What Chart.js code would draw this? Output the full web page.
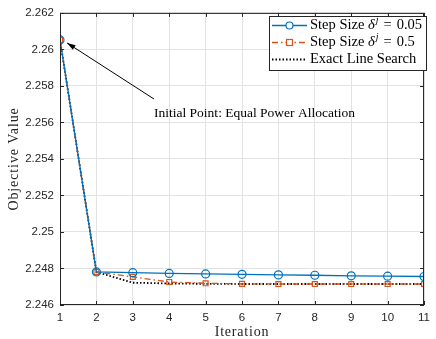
<!DOCTYPE html>
<html>
<head>
<meta charset="utf-8">
<script src="https://cdn.jsdelivr.net/npm/chart.js@4/dist/chart.umd.min.js"></script>
<style>
  html, body { margin: 0; padding: 0; background: #fff; }
  #wrap { width: 436px; height: 339px; }
</style>
</head>
<body>
<div id="wrap"><canvas id="chart" width="436" height="339"></canvas></div>
<script>
const iterations = [1, 2, 3, 4, 5, 6, 7, 8, 9, 10, 11];
const stepSmall = [2.26052, 2.24781, 2.24777, 2.24773, 2.24770, 2.24768, 2.24765, 2.24763, 2.24760, 2.24758, 2.24756];
const stepLarge = [2.26052, 2.24781, 2.24754, 2.24726, 2.24719, 2.24716, 2.24715, 2.24715, 2.24715, 2.24715, 2.24715];
const exactSearch = [2.26052, 2.24781, 2.24722, 2.24718, 2.24716, 2.24715, 2.24715, 2.24715, 2.24715, 2.24715, 2.24715];
const yTicks = [2.246, 2.248, 2.25, 2.252, 2.254, 2.256, 2.258, 2.26, 2.262];

const BLUE = '#0072BD';
const ORANGE = '#D95319';
const AXIS = '#262626';
const SERIF = '"Liberation Serif", "DejaVu Serif", serif';
const SANS = '"Liberation Sans", Arial, sans-serif';

function toPoints(arr) {
    return arr.map((v, i) => ({ x: iterations[i], y: v }));
}

// box, inward ticks, axis titles, annotation and legend like the MATLAB figure
const extras = {
    id: 'extras',
    afterDatasetsDraw(chart) {
        const ctx = chart.ctx;
        const a = chart.chartArea;
        const xs = chart.scales.x, ys = chart.scales.y;
        ctx.save();
        ctx.strokeStyle = AXIS;
        ctx.lineWidth = 1;
        ctx.strokeRect(a.left + 0.5, a.top + 0.5, a.right - a.left - 1, a.bottom - a.top - 1);
        ctx.beginPath();
        iterations.forEach(v => {
            const px = Math.round(xs.getPixelForValue(v)) + 0.5;
            ctx.moveTo(px, a.bottom); ctx.lineTo(px, a.bottom - 4);
            ctx.moveTo(px, a.top); ctx.lineTo(px, a.top + 4);
        });
        yTicks.forEach(v => {
            const py = Math.round(ys.getPixelForValue(v)) + 0.5;
            ctx.moveTo(a.left, py); ctx.lineTo(a.left + 4, py);
            ctx.moveTo(a.right, py); ctx.lineTo(a.right - 4, py);
        });
        ctx.stroke();

        // axis titles
        ctx.fillStyle = '#222';
        ctx.textAlign = 'center';
        ctx.textBaseline = 'middle';
        ctx.font = '14px ' + SERIF;
        ctx.letterSpacing = '0.8px';
        ctx.fillText('Iteration', (a.left + a.right) / 2, 332);
        ctx.save();
        ctx.translate(14, (a.top + a.bottom) / 2);
        ctx.rotate(-Math.PI / 2);
        ctx.letterSpacing = '0.9px';
        ctx.fillText('Objective Value', 0, 0);
        ctx.restore();
        ctx.letterSpacing = '0px';

        // annotation arrow
        const hx = xs.getPixelForValue(iterations[0]) + 7;
        const hy = ys.getPixelForValue(stepSmall[0]) + 3;
        const tx = 154, ty = 99;
        ctx.strokeStyle = '#000';
        ctx.fillStyle = '#000';
        ctx.beginPath();
        ctx.moveTo(tx, ty); ctx.lineTo(hx, hy);
        ctx.stroke();
        const ang = Math.atan2(ty - hy, tx - hx);
        ctx.beginPath();
        ctx.moveTo(hx, hy);
        ctx.lineTo(hx + 9 * Math.cos(ang - 0.3), hy + 9 * Math.sin(ang - 0.3));
        ctx.lineTo(hx + 9 * Math.cos(ang + 0.3), hy + 9 * Math.sin(ang + 0.3));
        ctx.closePath();
        ctx.fill();
        ctx.font = '13.5px ' + SERIF;
        ctx.textAlign = 'left';
        ctx.textBaseline = 'middle';
        ctx.fillText('Initial Point: Equal Power Allocation', 154, 113);

        // legend
        const lx = 269, ly = 16, lw = 157, lh = 54;
        ctx.fillStyle = '#fff';
        ctx.fillRect(lx, ly, lw, lh);
        ctx.strokeStyle = AXIS;
        ctx.strokeRect(lx + 0.5, ly + 0.5, lw, lh);
        const rows = [
            { ds: chart.data.datasets[0], v: '0.05' },
            { ds: chart.data.datasets[1], v: '0.5' },
            { ds: chart.data.datasets[2], v: null }
        ];
        rows.forEach((r, i) => {
            const y = ly + 9.5 + i * 17;
            ctx.strokeStyle = r.ds.borderColor;
            ctx.lineWidth = r.ds.borderWidth;
            ctx.setLineDash(r.ds.borderDash || []);
            ctx.beginPath();
            ctx.moveTo(lx + 3, y); ctx.lineTo(lx + 38, y);
            ctx.stroke();
            ctx.setLineDash([]);
            ctx.lineWidth = 1.2;
            if (r.ds.pointStyle === 'circle') {
                ctx.beginPath(); ctx.arc(lx + 20.5, y, 3.5, 0, Math.PI * 2); ctx.fillStyle = '#fff'; ctx.fill(); ctx.stroke();
            } else if (r.ds.pointStyle === 'rect') {
                ctx.fillStyle = '#fff';
                ctx.fillRect(lx + 17.5, y - 3, 6, 6);
                ctx.strokeRect(lx + 17.5, y - 3, 6, 6);
            }
            ctx.fillStyle = '#000';
            ctx.textBaseline = 'middle';
            let x = lx + 41;
            ctx.font = '14.5px ' + SERIF;
            if (r.v) {
                ctx.fillText('Step Size ', x, y);
                x += ctx.measureText('Step Size ').width;
                ctx.font = 'italic 14.5px ' + SERIF;
                ctx.fillText('\u03b4', x, y);
                x += ctx.measureText('\u03b4').width + 1;
                ctx.font = 'italic 10px ' + SERIF;
                ctx.fillText('j', x, y - 5);
                x += ctx.measureText('j').width + 5;
                ctx.font = '14.5px ' + SERIF;
                ctx.fillText('=', x, y);
                x += ctx.measureText('=').width + 5;
                ctx.fillText(r.v, x, y);
            } else {
                ctx.fillText('Exact Line Search', x, y);
            }
        });
        ctx.restore();
    }
};

new Chart(document.getElementById('chart'), {
    type: 'line',
    data: {
        datasets: [
            {
                label: 'Step Size 0.05', data: toPoints(stepSmall),
                borderColor: BLUE, backgroundColor: '#fff', borderWidth: 1.3,
                pointStyle: 'circle', pointRadius: 4, pointBorderWidth: 1.2, pointBorderColor: BLUE, pointBackgroundColor: 'rgba(0,0,0,0)'
            },
            {
                label: 'Step Size 0.5', data: toPoints(stepLarge),
                borderColor: ORANGE, backgroundColor: '#fff', borderWidth: 1.3, borderDash: [6, 3, 1.5, 3],
                pointStyle: 'rect', pointRadius: 3.5, pointBorderWidth: 1.2, pointBorderColor: ORANGE, pointBackgroundColor: 'rgba(0,0,0,0)'
            },
            {
                label: 'Exact Line Search', data: toPoints(exactSearch),
                borderColor: '#000', borderWidth: 1.8, borderDash: [1.5, 2],
                pointRadius: 0, pointStyle: false
            }
        ]
    },
    options: {
        responsive: false,
        animation: false,
        layout: { padding: { top: 12, right: 5, left: 0, bottom: 0 } },
        plugins: { legend: { display: false }, tooltip: { enabled: false } },
        scales: {
            x: {
                type: 'linear', min: 1, max: 11,
                afterBuildTicks: s => { s.ticks = iterations.map(v => ({ value: v })); },
                afterFit: s => { s.height = 34; },
                grid: { color: '#e3e3e3', drawTicks: false },
                border: { display: false },
                ticks: { color: AXIS, font: { family: SANS, size: 11.5 }, padding: 6, maxRotation: 0 },
                title: { display: false }
            },
            y: {
                min: 2.246, max: 2.262,
                afterBuildTicks: s => { s.ticks = yTicks.map(v => ({ value: v })); },
                afterFit: s => { s.width = 60; },
                grid: { color: '#e3e3e3', drawTicks: false },
                border: { display: false },
                ticks: { color: AXIS, font: { family: SANS, size: 11.5 }, padding: 6, callback: v => String(Number(v.toFixed(3))) },
                title: { display: false }
            }
        }
    },
    plugins: [extras]
});
</script>
</body>
</html>
